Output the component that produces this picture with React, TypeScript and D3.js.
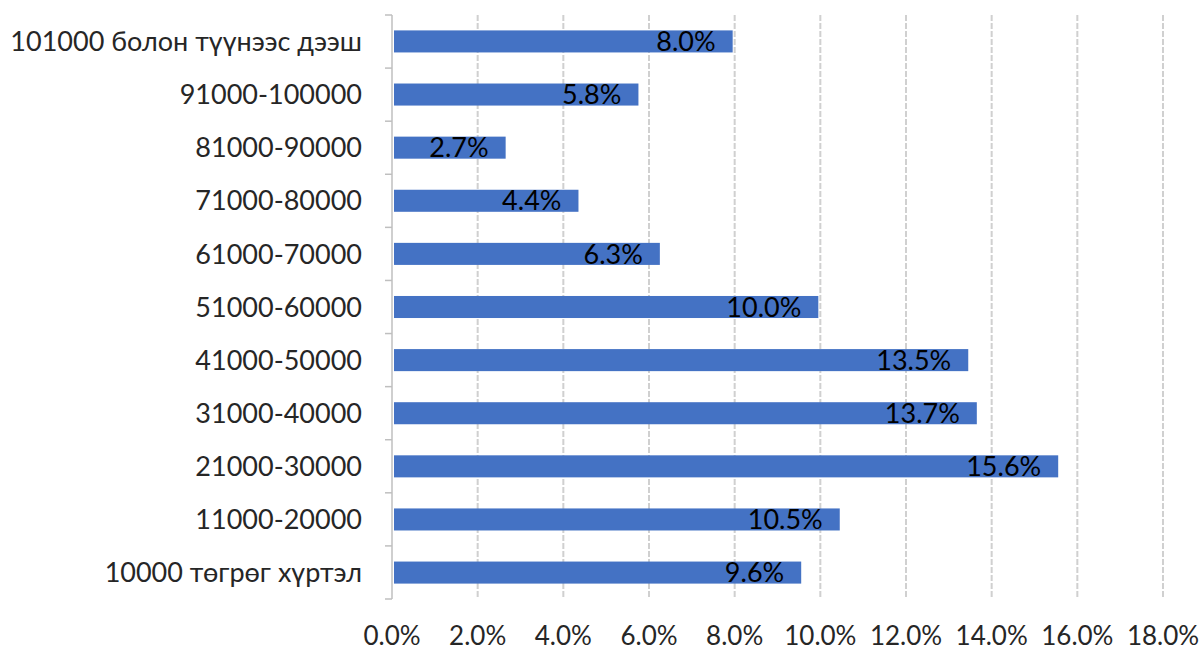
import React, { useEffect, useRef } from "react";
import * as d3 from "d3";

const categories = [
  "101000 болон түүнээс дээш",
  "91000-100000",
  "81000-90000",
  "71000-80000",
  "61000-70000",
  "51000-60000",
  "41000-50000",
  "31000-40000",
  "21000-30000",
  "11000-20000",
  "10000 төгрөг хүртэл",
];
const values = [8.0, 5.8, 2.7, 4.4, 6.3, 10.0, 13.5, 13.7, 15.6, 10.5, 9.6];
const xTicks = [0, 2, 4, 6, 8, 10, 12, 14, 16, 18];

const W = 1203;
const H = 651;
const FONT = "Lato, 'Noto Sans', sans-serif";

const App = () => {
  const ref = useRef<SVGSVGElement>(null);

  useEffect(() => {
    const svg = d3.select(ref.current);
    svg.selectAll("*").remove();

    const margin = { top: 15, right: 40, bottom: 52, left: 392 };
    const x = d3.scaleLinear().domain([0, 18]).range([margin.left, 1163]);
    const y = d3
      .scaleBand()
      .domain(categories)
      .range([margin.top, H - margin.bottom])
      .paddingInner(0.585)
      .paddingOuter(0.29);

    // gridlines
    svg
      .append("g")
      .selectAll("line")
      .data(xTicks.slice(1))
      .join("line")
      .attr("x1", (d) => x(d))
      .attr("x2", (d) => x(d))
      .attr("y1", margin.top)
      .attr("y2", H - margin.bottom)
      .attr("stroke", "#d0d0d0")
      .attr("stroke-width", 2)
      .attr("stroke-dasharray", "6,2");

    // left axis, ticks at band boundaries
    const bounds = d3
      .range(categories.length + 1)
      .map((i) => margin.top + i * ((H - margin.bottom - margin.top) / categories.length));
    const ax = svg.append("g").attr("stroke", "#bfbfbf").attr("stroke-width", 1.5);
    ax.append("line")
      .attr("x1", x(0))
      .attr("x2", x(0))
      .attr("y1", margin.top)
      .attr("y2", H - margin.bottom);
    ax.selectAll("line.tick")
      .data(bounds)
      .join("line")
      .attr("class", "tick")
      .attr("x1", x(0) - 7)
      .attr("x2", x(0))
      .attr("y1", (d) => d)
      .attr("y2", (d) => d);

    // bars
    svg
      .append("g")
      .selectAll("rect")
      .data(values)
      .join("rect")
      .attr("x", x(0) + 2)
      .attr("y", (_, i) => y(categories[i])!)
      .attr("width", (d) => x(d) - x(0) - 4)
      .attr("height", y.bandwidth())
      .attr("fill", "#4472C4");

    // value labels
    svg
      .append("g")
      .selectAll("text")
      .data(values)
      .join("text")
      .attr("x", (d) => x(d) - 19)
      .attr("y", (_, i) => y(categories[i])! + y.bandwidth() / 2)
      .attr("dy", "0.36em")
      .attr("text-anchor", "end")
      .attr("font-family", FONT)
      .attr("font-size", 27)
      .attr("fill", "#000")
      .text((d) => d.toFixed(1) + "%");

    // category labels
    svg
      .append("g")
      .selectAll("text")
      .data(categories)
      .join("text")
      .attr("x", 362)
      .attr("y", (d) => y(d)! + y.bandwidth() / 2)
      .attr("dy", "0.36em")
      .attr("text-anchor", "end")
      .attr("font-family", FONT)
      .attr("font-size", 27)
      .attr("fill", "#262626")
      .text((d) => d);

    // x tick labels
    svg
      .append("g")
      .selectAll("text")
      .data(xTicks)
      .join("text")
      .attr("x", (d) => x(d))
      .attr("y", 645)
      .attr("text-anchor", "middle")
      .attr("font-family", FONT)
      .attr("font-size", 26)
      .attr("fill", "#262626")
      .text((d) => d.toFixed(1) + "%");
  }, []);

  return (
    <svg
      ref={ref}
      width={W}
      height={H}
      style={{ position: "absolute", left: 0, top: 0, background: "#fff" }}
    />
  );
};

export default App;
